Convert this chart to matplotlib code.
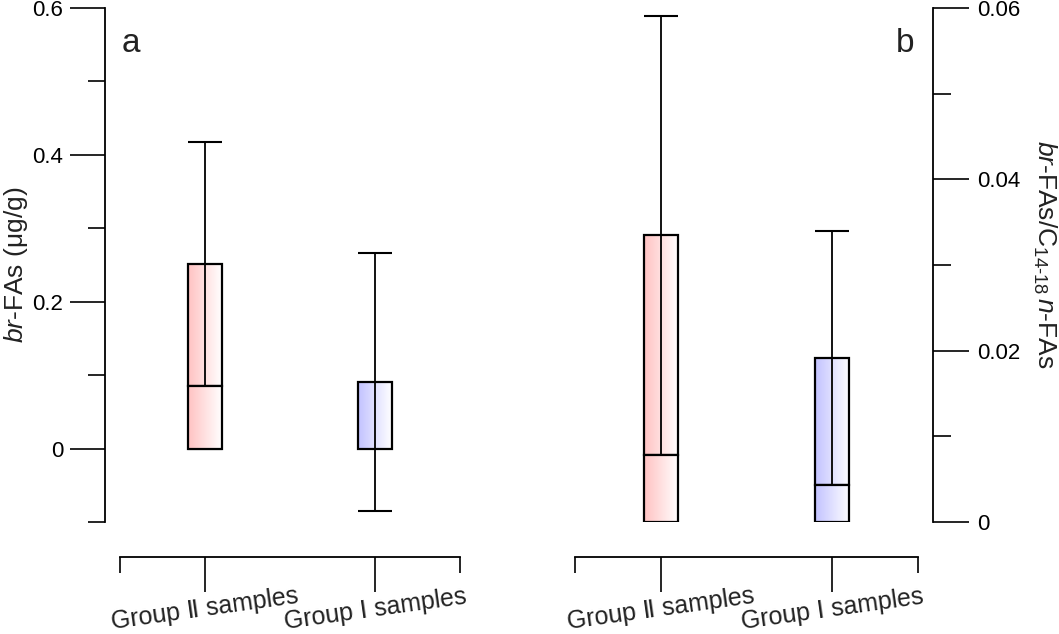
import matplotlib
matplotlib.use('Agg')
import matplotlib.pyplot as plt
import numpy as np
from matplotlib.patches import Rectangle
from matplotlib.colors import LinearSegmentedColormap
from matplotlib import transforms

plt.rcParams['font.family'] = ['Liberation Sans', 'DejaVu Sans']
plt.rcParams['mathtext.fontset'] = 'custom'
plt.rcParams['mathtext.rm'] = 'Liberation Sans'
plt.rcParams['mathtext.it'] = 'Liberation Sans:italic'

# ---------------- data ----------------
groups = ['Group Ⅱ samples', 'Group Ⅰ samples']
positions = [1, 3]
colors = ['#FFC2C2', '#C2C2FF']

# panel a: br-FAs (ug/g)
a_low = [0.0, -0.085]
a_q1 = [0.0, 0.0]
a_med = [0.085, 0.0]
a_q3 = [0.252, 0.0907]
a_high = [0.4175, 0.266]

# panel b: br-FAs / C14-18 n-FAs
b_low = [0.0, 0.0]
b_q1 = [0.0, 0.0]
b_med = [0.0078, 0.0043]
b_q3 = [0.0335, 0.0191]
b_high = [0.0591, 0.0340]

a_major = [0, 0.2, 0.4, 0.6]
a_major_labels = ['0', '0.2', '0.4', '0.6']
a_minor = [-0.1, 0.1, 0.3, 0.5]
b_major = [0, 0.02, 0.04, 0.06]
b_major_labels = ['0', '0.02', '0.04', '0.06']
b_minor = [0.01, 0.03, 0.05]

W, H = 1059, 634
PT = 0.72  # points per pixel at dpi 100
fig = plt.figure(figsize=(W / 100, H / 100), dpi=100)


def px_axes(l, t, r, b):
    return [l / W, 1 - b / H, (r - l) / W, (b - t) / H]


axa = fig.add_axes(px_axes(120, 8, 460, 522))
axb = fig.add_axes(px_axes(575, 8, 918, 522))


def draw_box(ax, x, low, q1, med, q3, high, color, w=0.4):
    grad = np.linspace(0, 1, 256).reshape(1, -1)
    cmap = LinearSegmentedColormap.from_list('g', [color, 'white'])
    for (y0, y1, z) in [(q1, med, 3), (med, q3, 1)]:
        if y1 <= y0:
            continue
        ax.imshow(grad, extent=[x - w / 2, x + w / 2, y0, y1], aspect='auto',
                  cmap=cmap, zorder=z, interpolation='bilinear')
        ax.add_patch(Rectangle((x - w / 2, y0), w, y1 - y0, facecolor='none',
                               edgecolor='black', lw=1.6, zorder=z + 0.5))
    ax.vlines(x, low, high, colors='black', lw=1.3, zorder=2)
    ax.hlines([low, high], x - w / 2, x + w / 2, colors='black', lw=1.5, zorder=2)


for i in range(2):
    draw_box(axa, positions[i], a_low[i], a_q1[i], a_med[i], a_q3[i], a_high[i], colors[i])
    draw_box(axb, positions[i], b_low[i], b_q1[i], b_med[i], b_q3[i], b_high[i], colors[i])

axa.set_xlim(0, 4)
axa.set_ylim(-0.1, 0.6)
axb.set_xlim(0, 4)
axb.set_ylim(0, 0.06)

for ax in (axa, axb):
    ax.set_facecolor('none')
    ax.spines['top'].set_visible(False)
    ax.spines['bottom'].set_position(('outward', 35 * PT))
    for s in ax.spines.values():
        s.set_linewidth(1.3)
    ax.set_xticks(positions)
    ax.set_xticklabels(['', ''])
    ax.set_xticks([0, 4], minor=True)
    ax.tick_params(axis='x', which='major', length=35 * PT, width=1.2, direction='out')
    ax.tick_params(axis='x', which='minor', length=16 * PT, width=1.2, direction='out')
    blend = transforms.blended_transform_factory(ax.transData, ax.transAxes)
    for p, g in zip(positions, groups):
        ax.text(p, -0.169, g, transform=blend, rotation=8, ha='center', va='center',
                rotation_mode='anchor', fontsize=18, color='#222222')

axa.spines['right'].set_visible(False)
axa.spines['left'].set_position(('outward', 15 * PT))
axa.set_yticks(a_major)
axa.set_yticklabels(a_major_labels)
axa.set_yticks(a_minor, minor=True)
axa.tick_params(axis='y', which='major', length=35 * PT, width=1.2, labelsize=16, pad=5)
axa.tick_params(axis='y', which='minor', length=17 * PT, width=1.2)

axb.spines['left'].set_visible(False)
axb.spines['right'].set_position(('outward', 15 * PT))
axb.yaxis.tick_right()
axb.set_yticks(b_major)
axb.set_yticklabels(b_major_labels)
axb.set_yticks(b_minor, minor=True)
axb.tick_params(axis='y', which='major', length=36 * PT, width=1.2, labelsize=16, pad=6)
axb.tick_params(axis='y', which='minor', length=18 * PT, width=1.2)

fig.text(16 / W, 1 - 265 / H, r'$\it{br}$-FAs (μg/g)', rotation=90, ha='center',
         va='center', fontsize=19, color='#222222')
fig.text(1045 / W, 1 - 254 / H,
         r'$\it{br}$-FAs/C$_{\mathrm{14\text{-}18}}$$\,\it{n}$-FAs',
         rotation=270, ha='center', va='center', fontsize=19, color='#222222')

fig.text(131 / W, 1 - 52 / H, 'a', fontsize=24, ha='center', va='baseline', color='#222222')
fig.text(905 / W, 1 - 52 / H, 'b', fontsize=24, ha='center', va='baseline', color='#222222')

fig.savefig('out.png', dpi=100)
